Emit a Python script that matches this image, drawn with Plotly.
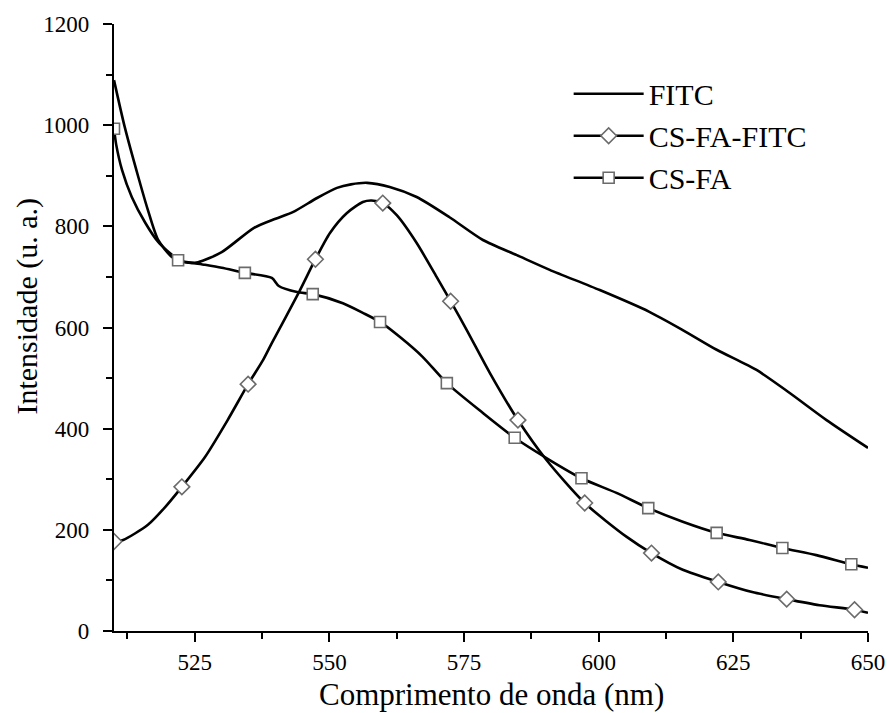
import plotly.graph_objects as go

# ---- data ----
fitc_x = [510, 512, 514.5, 516.3, 518.2, 520.8, 523.2, 525.6, 530, 536, 540, 543.2, 547.7,
          551.4, 554, 557, 561.2, 566.2, 572.3, 578.5, 584.8, 590.9, 600.2, 609.4, 615.6,
          621.9, 629.3, 635.4, 642.3, 650]
fitc_y = [1089, 996, 898, 832, 773, 739, 729, 729, 749, 797, 815, 828, 856,
          876, 883, 886, 878, 858, 818, 773, 743, 714, 674, 631, 595,
          556, 516, 471, 417, 362]

csfafitc_x = [510, 511.7, 516.3, 519.5, 522.6, 526.9, 531.1, 534.9, 537.7, 539.3, 544.4, 547.4,
              550.1, 553.2, 556.2, 557.8, 559.9, 562.5, 566.2, 569.9, 572.5, 575.5, 579.8, 585,
              590.3, 597.4, 605.2, 609.8, 615.6, 622.2, 628.5, 634.9, 641, 647.5, 650]
csfafitc_y = [177, 180, 210, 245, 285, 344, 417, 488, 536, 569, 671, 735,
              787, 826, 848, 851, 846, 822, 767, 700, 652, 595, 510, 417,
              338, 253, 186, 154, 121, 97, 77, 63, 51, 42, 36]

csfa_x = [510, 510.4, 511.5, 513.3, 515.8, 518.2, 520.8, 521.9, 526.9, 530, 534.3, 539.3, 540.6,
          544, 546.9, 552.5, 556.2, 559.4, 563.1, 567.3, 571.8, 578.5, 584.4, 590.9, 596.8,
          603.3, 609.2, 615.6, 621.9, 628, 634.1, 640.4, 646.9, 650]
csfa_y = [993, 962, 911, 858, 807, 769, 743, 733, 724, 718, 708, 698, 682,
          670, 666, 648, 629, 611, 581, 542, 490, 431, 382, 338, 302,
          273, 243, 216, 194, 180, 164, 150, 132, 125]

# marker positions
dia_x = [510, 522.6, 534.9, 547.4, 559.9, 572.5, 585, 597.4, 609.8, 622.2, 634.9, 647.5]
dia_y = [177, 285, 488, 735, 846, 652, 417, 253, 154, 97, 63, 42]
sq_x = [510, 521.9, 534.3, 546.9, 559.4, 571.8, 584.4, 596.8, 609.2, 621.9, 634.1, 646.9]
sq_y = [993, 733, 708, 666, 611, 490, 382, 302, 243, 194, 164, 132]

x_ticks = [525, 550, 575, 600, 625, 650]
y_ticks = [0, 200, 400, 600, 800, 1000, 1200]

FONT = "Liberation Serif, Times New Roman, serif"
LINE = dict(color="black", width=2.6)
MK_LINE = dict(color="#6b6b6b", width=1.6)

fig = go.Figure()

# curves (no legend)
for xs, ys, grp in [(fitc_x, fitc_y, "a"), (csfafitc_x, csfafitc_y, "b"), (csfa_x, csfa_y, "c")]:
    fig.add_trace(go.Scatter(x=xs, y=ys, mode="lines", line=dict(LINE, shape="spline", smoothing=0.7),
                             showlegend=False, legendgroup=grp, hoverinfo="skip"))

# markers
fig.add_trace(go.Scatter(x=dia_x, y=dia_y, mode="markers", showlegend=False, legendgroup="b",
                         marker=dict(symbol="diamond", size=12, color="white", line=MK_LINE)))
fig.add_trace(go.Scatter(x=sq_x, y=sq_y, mode="markers", showlegend=False, legendgroup="c",
                         marker=dict(symbol="square", size=11, color="white", line=MK_LINE)))

# legend entries
fig.add_trace(go.Scatter(x=[None], y=[None], mode="lines", name="FITC", line=LINE, legendgroup="a"))
fig.add_trace(go.Scatter(x=[None], y=[None], mode="lines+markers", name="CS-FA-FITC", line=LINE,
                         legendgroup="b",
                         marker=dict(symbol="diamond", size=12, color="white", line=MK_LINE)))
fig.add_trace(go.Scatter(x=[None], y=[None], mode="lines+markers", name="CS-FA", line=LINE,
                         legendgroup="c",
                         marker=dict(symbol="square", size=11, color="white", line=MK_LINE)))

axis_common = dict(
    showline=True, linecolor="black", linewidth=2.2, mirror=False,
    ticks="outside", ticklen=9, tickwidth=2.2, tickcolor="black",
    showgrid=False, zeroline=False, automargin=False,
    tickfont=dict(family=FONT, size=23, color="black"),
)

fig.update_xaxes(
    range=[510, 650], tickvals=x_ticks, ticktext=[str(v) for v in x_ticks],
    minor=dict(ticks="outside", ticklen=6, tickwidth=2.2, tickcolor="black", dtick=12.5, tick0=500),
    ticklabelstandoff=0,
    **axis_common,
)
fig.update_yaxes(
    range=[0, 1200], tickvals=y_ticks, ticktext=[str(v) for v in y_ticks],
    minor=dict(ticks="outside", ticklen=6, tickwidth=2.2, tickcolor="black", dtick=100, tick0=0),
    ticklabelstandoff=9,
    **axis_common,
)

fig.add_annotation(
    text="Comprimento de onda (nm)", showarrow=False, borderpad=0,
    xref="paper", yref="paper", x=0.5, y=-0.1038, xanchor="center", yanchor="middle",
    font=dict(family=FONT, size=31, color="black"),
)
fig.add_annotation(
    text="Intensidade (u. a.)", textangle=-90, showarrow=False,
    xref="paper", yref="paper", x=-0.115, y=0.535, xanchor="center", yanchor="middle",
    font=dict(family=FONT, size=30, color="black"),
)

fig.update_layout(
    width=889, height=713,
    margin=dict(l=114, r=21, t=24, b=82),
    plot_bgcolor="white", paper_bgcolor="white",
    font=dict(family=FONT, color="black"),
    legend=dict(x=0.603, y=0.928, xanchor="left", yanchor="top",
                font=dict(family=FONT, size=30, color="black"),
                bgcolor="rgba(0,0,0,0)", itemwidth=70, tracegroupgap=0),
)

fig.write_html("out.html")
